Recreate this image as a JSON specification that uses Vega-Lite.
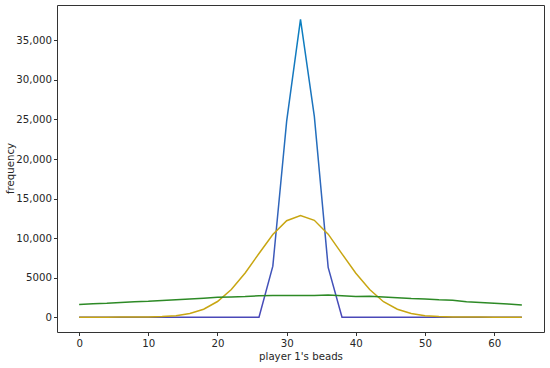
{
  "$schema": "https://vega.github.io/schema/vega-lite/v6.json",
  "width": 487,
  "height": 327,
  "autosize": {"type": "none"},
  "padding": {"left": 57, "top": 5, "right": 6, "bottom": 36},
  "background": "white",
  "config": {
    "view": {"stroke": "#333333", "strokeWidth": 1},
    "font": "DejaVu Sans",
    "axis": {
      "domain": false,
      "grid": false,
      "tickColor": "#333333",
      "tickSize": 3.5,
      "labelFont": "DejaVu Sans",
      "labelFontSize": 10.2,
      "labelColor": "#262626",
      "titleFont": "DejaVu Sans",
      "titleFontSize": 10.2,
      "titleFontWeight": "normal",
      "titleColor": "#262626"
    }
  },
  "datasets": {
    "blue": [
      {"x": 0, "v": 0}, {"x": 2, "v": 0}, {"x": 4, "v": 0}, {"x": 6, "v": 0}, {"x": 8, "v": 0},
      {"x": 10, "v": 0}, {"x": 12, "v": 0}, {"x": 14, "v": 0}, {"x": 16, "v": 0}, {"x": 18, "v": 0},
      {"x": 20, "v": 0}, {"x": 22, "v": 0}, {"x": 24, "v": 0}, {"x": 26, "v": 0},
      {"x": 28, "v": 6450}, {"x": 30, "v": 24800}, {"x": 32, "v": 37650}, {"x": 34, "v": 25400},
      {"x": 36, "v": 6300}, {"x": 38, "v": 0}, {"x": 40, "v": 0}, {"x": 42, "v": 0}, {"x": 44, "v": 0},
      {"x": 46, "v": 0}, {"x": 48, "v": 0}, {"x": 50, "v": 0}, {"x": 52, "v": 0}, {"x": 54, "v": 0},
      {"x": 56, "v": 0}, {"x": 58, "v": 0}, {"x": 60, "v": 0}, {"x": 62, "v": 0}, {"x": 64, "v": 0}
    ],
    "yellow": [
      {"x": 0, "v": 0}, {"x": 2, "v": 0}, {"x": 4, "v": 0}, {"x": 6, "v": 2}, {"x": 8, "v": 7},
      {"x": 10, "v": 24}, {"x": 12, "v": 71}, {"x": 14, "v": 190}, {"x": 16, "v": 460}, {"x": 18, "v": 1005},
      {"x": 20, "v": 1975}, {"x": 22, "v": 3500}, {"x": 24, "v": 5590}, {"x": 26, "v": 8050},
      {"x": 28, "v": 10440}, {"x": 30, "v": 12200}, {"x": 32, "v": 12850}, {"x": 34, "v": 12250},
      {"x": 36, "v": 10500}, {"x": 38, "v": 8000}, {"x": 40, "v": 5550}, {"x": 42, "v": 3500},
      {"x": 44, "v": 1950}, {"x": 46, "v": 1000}, {"x": 48, "v": 460}, {"x": 50, "v": 190},
      {"x": 52, "v": 70}, {"x": 54, "v": 24}, {"x": 56, "v": 7}, {"x": 58, "v": 2}, {"x": 60, "v": 0},
      {"x": 62, "v": 0}, {"x": 64, "v": 0}
    ],
    "green": [
      {"x": 0, "v": 1600}, {"x": 2, "v": 1700}, {"x": 4, "v": 1750}, {"x": 6, "v": 1850}, {"x": 8, "v": 1950},
      {"x": 10, "v": 2000}, {"x": 12, "v": 2100}, {"x": 14, "v": 2200}, {"x": 16, "v": 2300}, {"x": 18, "v": 2400},
      {"x": 20, "v": 2500}, {"x": 22, "v": 2550}, {"x": 24, "v": 2600}, {"x": 26, "v": 2700},
      {"x": 28, "v": 2750}, {"x": 30, "v": 2750}, {"x": 32, "v": 2750}, {"x": 34, "v": 2750},
      {"x": 36, "v": 2800}, {"x": 38, "v": 2700}, {"x": 40, "v": 2600}, {"x": 42, "v": 2650},
      {"x": 44, "v": 2550}, {"x": 46, "v": 2450}, {"x": 48, "v": 2350}, {"x": 50, "v": 2300},
      {"x": 52, "v": 2200}, {"x": 54, "v": 2150}, {"x": 56, "v": 1950}, {"x": 58, "v": 1850},
      {"x": 60, "v": 1750}, {"x": 62, "v": 1650}, {"x": 64, "v": 1550}
    ]
  },
  "encoding": {
    "x": {
      "field": "x", "type": "quantitative",
      "scale": {"domain": [-3.2, 67.2], "nice": false, "zero": false},
      "axis": {"values": [0, 10, 20, 30, 40, 50, 60], "title": "player 1's beads", "labelPadding": 3, "titlePadding": 3}
    },
    "y": {
      "field": "v", "type": "quantitative",
      "scale": {"domain": [-1880, 39480], "nice": false, "zero": false},
      "axis": {
        "values": [0, 5000, 10000, 15000, 20000, 25000, 30000, 35000],
        "labelExpr": "datum.value >= 10000 ? format(datum.value, ',') : format(datum.value, 'd')",
        "title": "frequency", "labelPadding": 2, "titleX": -42, "titleY": 163
      }
    }
  },
  "layer": [
    {
      "data": {"name": "blue"},
      "mark": {
        "type": "line", "strokeWidth": 1.5, "clip": true,
        "color": {
          "gradient": "linear", "x1": 0, "y1": 1, "x2": 0, "y2": 0,
          "stops": [
            {"offset": 0, "color": "#4a48b8"},
            {"offset": 0.4, "color": "#2f66bb"},
            {"offset": 1, "color": "#0a80c0"}
          ]
        }
      }
    },
    {
      "data": {"name": "yellow"},
      "mark": {"type": "line", "strokeWidth": 1.5, "clip": true, "color": "#c8a612"}
    },
    {
      "data": {"name": "green"},
      "mark": {"type": "line", "strokeWidth": 1.5, "clip": true, "color": "#2d8a26"}
    }
  ]
}
